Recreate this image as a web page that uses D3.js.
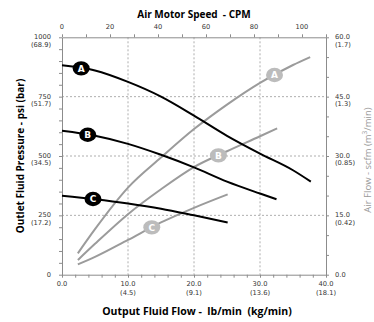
<!DOCTYPE html>
<html><head><meta charset="utf-8">
<script src="https://cdn.jsdelivr.net/npm/d3@7"></script>
<style>body{margin:0;background:#fff}svg{display:block}text{white-space:pre}</style>
</head><body>
<svg id="c" width="374" height="322"></svg>
<script>
// ---- data ----
const flowBlackA = [0, 5, 10, 15, 20, 25, 30, 35, 37.7];
const pressA     = [882, 860, 812, 750, 670, 585, 510, 440, 392];
const flowBlackB = [0, 5, 10, 15, 20, 25, 30, 32.5];
const pressB     = [606, 585, 551, 505, 452, 392, 342, 318];
const flowBlackC = [0, 5, 10, 15, 20, 25.1];
const pressC     = [333, 318, 300, 278, 250, 220];

const flowGrayA = [2.4, 5, 10, 15, 20, 25, 30, 35, 37.6];
const airA      = [5.4, 11.5, 22, 29.6, 36.8, 43, 48.5, 53, 55];
const flowGrayB = [2.4, 5, 10, 15, 20, 25, 30, 32.6];
const airB      = [3.7, 7.8, 15.3, 21.6, 27.2, 31.2, 35, 37];
const flowGrayC = [2.4, 5, 10, 15, 20, 25.1];
const airC      = [2.6, 4.5, 8.8, 13.2, 16.9, 20.3];

const seriesNames = ["A", "B", "C"];
const blackLabelFlow = [2.9, 3.9, 4.7];
const grayLabelFlow  = [32.2, 23.7, 13.6];

const bottomTicks = [0, 10, 20, 30, 40];
const bottomTickSub = ["", "(4.5)", "(9.1)", "(13.6)", "(18.1)"];
const leftTicks = [0, 250, 500, 750, 1000];
const leftTickSub = ["", "(17.2)", "(34.5)", "(51.7)", "(68.9)"];
const rightTicks = [0, 15, 30, 45, 60];
const rightTickSub = ["", "(0.42)", "(0.85)", "(1.3)", "(1.7)"];
const topTicks = [0, 20, 40, 60, 80, 100];

// ---- layout ----
const svg = d3.select("#c");
const L = 62, R = 326, T = 37.3, B = 274.7;
const x = d3.scaleLinear().domain([0, 40]).range([L, R]);
const y = d3.scaleLinear().domain([0, 1000]).range([B, T]);
const y2 = d3.scaleLinear().domain([0, 60]).range([B, T]);
const xTop = d3.scaleLinear().domain([0, 110]).range([L, R]);

const axisCol = "#8c8c8c", tickTxt = "#333";
const tickFont = "DejaVu Sans", tickSize = "6.7px";

// gridlines
const g = svg.append("g");
[10, 20, 30].forEach(v => g.append("line").attr("x1", x(v)).attr("x2", x(v)).attr("y1", T).attr("y2", B)
  .attr("stroke", "#9a9a9a").attr("stroke-width", 0.8).attr("stroke-dasharray", "2,2"));
[250, 500, 750].forEach(v => g.append("line").attr("x1", L).attr("x2", R).attr("y1", y(v)).attr("y2", y(v))
  .attr("stroke", "#9a9a9a").attr("stroke-width", 0.8).attr("stroke-dasharray", "2,2"));

function styleAxis(sel) {
  sel.select(".domain").attr("stroke", axisCol);
  sel.selectAll(".tick line").attr("stroke", axisCol);
  sel.selectAll("text").remove();
}
svg.append("g").attr("transform", `translate(0,${B})`)
  .call(d3.axisBottom(x).tickValues(d3.range(0, 40.1, 2)).tickSize(3).tickSizeOuter(0)).call(styleAxis);
svg.append("g").attr("transform", `translate(0,${T})`)
  .call(d3.axisTop(xTop).tickValues(d3.range(0, 110.1, 10)).tickSize(3).tickSizeOuter(0)).call(styleAxis);
svg.append("g").attr("transform", `translate(${L},0)`)
  .call(d3.axisLeft(y).tickValues(d3.range(0, 1000.1, 50)).tickSize(3).tickSizeOuter(0)).call(styleAxis);
svg.append("g").attr("transform", `translate(${R},0)`)
  .call(d3.axisRight(y2).tickValues(d3.range(0, 60.1, 5)).tickSize(3).tickSizeOuter(0)).call(styleAxis);

function txt(xp, yp, s, anchor, opts = {}) {
  return svg.append("text").attr("x", xp).attr("y", yp).attr("text-anchor", anchor)
    .attr("dominant-baseline", "central")
    .attr("font-family", opts.family || tickFont).attr("font-size", opts.size || tickSize)
    .attr("font-weight", opts.weight || "normal").attr("fill", opts.fill || tickTxt).text(s);
}
bottomTicks.forEach((v, i) => {
  txt(x(v), 284, v.toFixed(1), "middle");
  if (bottomTickSub[i]) txt(x(v), 292.5, bottomTickSub[i], "middle");
});
topTicks.forEach(v => txt(xTop(v), 27, String(v), "middle"));
leftTicks.forEach((v, i) => {
  txt(51, y(v), String(v), "end");
  if (leftTickSub[i]) txt(51, y(v) + 7.2, leftTickSub[i], "end");
});
rightTicks.forEach((v, i) => {
  txt(335, y2(v), v.toFixed(1), "start");
  if (rightTickSub[i]) txt(335, y2(v) + 7.2, rightTickSub[i], "start");
});

// titles
const titleFont = "Open Sans";
txt(194, 14, "Air Motor Speed  - CPM", "middle", {family: titleFont, size: "10px", weight: "bold", fill: "#000"});
txt(197, 311, "Output Fluid Flow -  lb/min  (kg/min)", "middle", {family: titleFont, size: "10.5px", weight: "bold", fill: "#000"});
svg.append("text").attr("transform", `translate(20,${(T + B) / 2}) rotate(-90)`)
  .attr("text-anchor", "middle").attr("dominant-baseline", "central")
  .attr("font-family", titleFont).attr("font-size", "10px").attr("font-weight", "bold").attr("fill", "#000")
  .text("Outlet Fluid Pressure - psi (bar)");
const rt = svg.append("text").attr("transform", `translate(367,${(T + B) / 2 + 4}) rotate(-90)`)
  .attr("text-anchor", "middle").attr("dominant-baseline", "central")
  .attr("font-family", titleFont).attr("font-size", "9.5px").attr("fill", "#999");
rt.append("tspan").text("Air Flow - scfm (m");
rt.append("tspan").attr("font-size", "6.5px").attr("dy", "-3").text("3");
rt.append("tspan").attr("dy", "3").text("/min)");

// curves
const line = (xs, ys, ys2) => d3.line().curve(d3.curveMonotoneX)
  .x((d, i) => x(xs[i])).y((d, i) => ys2(ys[i]))(xs);
const gray = [[flowGrayA, airA], [flowGrayB, airB], [flowGrayC, airC]];
const black = [[flowBlackA, pressA], [flowBlackB, pressB], [flowBlackC, pressC]];
gray.forEach(([fx, fy]) => svg.append("path").attr("d", line(fx, fy, y2))
  .attr("fill", "none").attr("stroke", "#9b9b9b").attr("stroke-width", 2));
black.forEach(([fx, fy]) => svg.append("path").attr("d", line(fx, fy, y))
  .attr("fill", "none").attr("stroke", "#000").attr("stroke-width", 2));

function interp(xs, ys, v) {
  for (let i = 0; i < xs.length - 1; i++) {
    if (v >= xs[i] && v <= xs[i + 1]) return ys[i] + (ys[i + 1] - ys[i]) * (v - xs[i]) / (xs[i + 1] - xs[i]);
  }
  return ys[ys.length - 1];
}
function badge(cx, cy, fill, s) {
  svg.append("ellipse").attr("cx", cx).attr("cy", cy).attr("rx", 8.5).attr("ry", 7.2).attr("fill", fill);
  svg.append("text").attr("x", cx).attr("y", cy + 0.5).attr("text-anchor", "middle").attr("dominant-baseline", "central")
    .attr("font-family", "DejaVu Sans").attr("font-size", "9px").attr("font-weight", "bold").attr("fill", "#fff").text(s);
}
seriesNames.forEach((s, i) => {
  const [gx, gy] = gray[i];
  badge(x(grayLabelFlow[i]), y2(interp(gx, gy, grayLabelFlow[i])), "#bcbcbc", s);
});
seriesNames.forEach((s, i) => {
  const [bx, by] = black[i];
  badge(x(blackLabelFlow[i]), y(interp(bx, by, blackLabelFlow[i])), "#000", s);
});
</script>
</body></html>
